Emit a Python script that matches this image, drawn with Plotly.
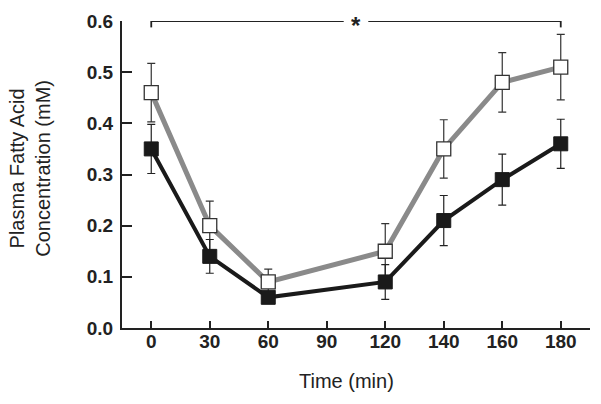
import plotly.graph_objects as go

time_labels = ["0", "30", "60", "90", "120", "140", "160", "180"]
open_times = ["0", "30", "60", "120", "140", "160", "180"]
open_vals = [0.46, 0.20, 0.09, 0.15, 0.35, 0.48, 0.51]
open_err = [0.057, 0.048, 0.025, 0.054, 0.057, 0.058, 0.064]
filled_vals = [0.35, 0.14, 0.06, 0.09, 0.21, 0.29, 0.36]
filled_err = [0.048, 0.033, 0.010, 0.034, 0.049, 0.050, 0.048]
y_ticks = [0.0, 0.1, 0.2, 0.3, 0.4, 0.5, 0.6]
sig_label = "*"
sig_level = 0.6

xpos = [time_labels.index(t) for t in open_times]

fig = go.Figure()
fig.add_trace(go.Scatter(
    x=xpos, y=open_vals, mode="lines+markers",
    line=dict(color="#8a8a8a", width=5),
    marker=dict(symbol="square", size=14, color="white", line=dict(color="#333333", width=1.3)),
    error_y=dict(type="data", array=open_err, color="#333333", thickness=1.2, width=4),
    cliponaxis=False, showlegend=False))
fig.add_trace(go.Scatter(
    x=xpos, y=filled_vals, mode="lines+markers",
    line=dict(color="#1a1a1a", width=4),
    marker=dict(symbol="square", size=14, color="#1a1a1a", line=dict(color="#1a1a1a", width=1)),
    error_y=dict(type="data", array=filled_err, color="#222222", thickness=1.2, width=4),
    cliponaxis=False, showlegend=False))

# significance bracket
x0, x1 = xpos[0], xpos[-1]
xm = (x0 + x1) / 2
gap = 0.21
lc = dict(color="#222222", width=1.8)
fig.add_shape(type="line", xref="x", yref="y", x0=x0, x1=xm - gap, y0=sig_level, y1=sig_level, line=lc)
fig.add_shape(type="line", xref="x", yref="y", x0=xm + gap, x1=x1, y0=sig_level, y1=sig_level, line=lc)
for xx in (x0, x1):
    fig.add_shape(type="line", xref="x", yref="y", x0=xx, x1=xx, y0=sig_level - 0.0125, y1=sig_level + 0.0125, line=lc)
fig.add_annotation(x=xm, y=sig_level, xref="x", yref="y", text=sig_label, showarrow=False,
                   font=dict(family="Liberation Sans", size=24, color="#222222", weight="bold"), yshift=-4)

fig.add_annotation(x=-0.1966, y=0.522, xref="paper", yref="paper", xanchor="center", yanchor="middle",
                   text="Plasma Fatty Acid<br>Concentration (mM)", textangle=-90, showarrow=False,
                   font=dict(family="Liberation Sans", size=20, color="#222222"))
fig.add_annotation(x=0.479, y=-0.173, xref="paper", yref="paper", xanchor="center", yanchor="middle",
                   text="Time (min)", showarrow=False,
                   font=dict(family="Liberation Sans", size=20, color="#222222"))

fig.update_layout(
    width=601, height=404,
    margin=dict(l=122, r=11, t=16, b=76),
    paper_bgcolor="white", plot_bgcolor="white",
    font=dict(family="Liberation Sans", color="#222222"),
    xaxis=dict(
        range=[-0.5, 7.5], tickmode="array", tickvals=list(range(len(time_labels))),
        ticktext=time_labels, ticks="inside", ticklen=7, tickwidth=1.6, tickcolor="#222222",
        showline=True, linewidth=2, linecolor="#222222", showgrid=False, zeroline=False,
        tickfont=dict(family="Liberation Sans", size=19, color="#222222", weight="bold"),
        ticklabelstandoff=-5,
    ),
    yaxis=dict(
        range=[0, 0.6], tickmode="array", tickvals=y_ticks,
        ticktext=[f"{v:.1f}" for v in y_ticks], ticks="inside", ticklen=10, tickwidth=1.6, tickcolor="#222222",
        showline=True, linewidth=2, linecolor="#222222", showgrid=False, zeroline=False,
        tickfont=dict(family="Liberation Sans", size=19, color="#222222", weight="bold"),
        ticklabelstandoff=3,
    ),
)
fig.write_html("out.html", config={"displayModeBar": False},
               post_script="document.body.style.margin='0';document.body.style.overflow='hidden';")
